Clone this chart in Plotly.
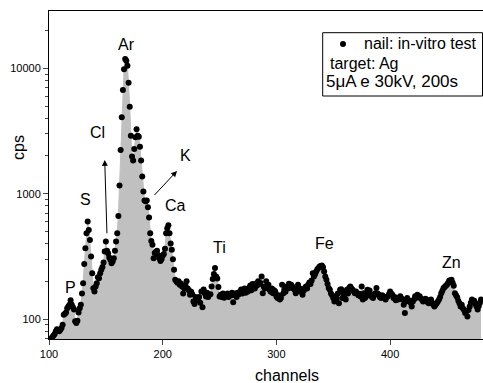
import numpy as np
import plotly.graph_objects as go

# channels 102..480, counts per second
channels = list(range(102, 481))
cps = [
    70, 72, 74, 76, 80, 83, 81, 80, 82, 85, 90, 108, 110, 113, 122, 126, 130, 141, 130, 124,  # 102-121
    119, 96, 93, 97, 113, 122, 130, 160, 193, 275, 367, 484, 600, 514, 428, 315, 232, 176, 166, 182,  # 122-141
    193, 216, 212, 232, 247, 260, 283, 346, 415, 350, 335, 310, 297, 279, 288, 306, 350, 415, 484, 665,  # 142-161
    1160, 2234, 4070, 6710, 9810, 11860, 11500, 10500, 7670, 4940, 2900, 1977, 1836, 2276, 2820, 3265, 2900, 2850, 2370, 1836,  # 162-181
    1368, 1040, 881, 870, 881, 780, 646, 484, 420, 391, 306, 336, 345, 350, 325, 306, 290, 300, 320, 330,  # 182-201
    363, 484, 531, 560, 484, 400, 357, 300, 247, 206, 200, 195, 200, 188, 192, 182, 160, 175, 185, 200,  # 202-221
    175, 170, 156, 165, 158, 138, 132, 150, 143, 142, 150, 135, 166, 124, 172, 160, 151, 162, 150, 156,  # 222-241
    158, 182, 209, 229, 255, 219, 211, 180, 151, 156, 150, 160, 148, 155, 152, 160, 150, 158, 155, 162,  # 242-261
    136, 155, 160, 150, 162, 158, 165, 172, 160, 168, 175, 162, 170, 166, 178, 185, 170, 190, 180, 175,  # 262-281
    192, 185, 200, 190, 194, 219, 161, 180, 175, 200, 185, 188, 171, 165, 175, 161, 170, 166, 151, 147,  # 282-301
    155, 143, 147, 188, 160, 171, 165, 182, 175, 191, 178, 188, 182, 175, 171, 161, 170, 188, 177, 166,  # 302-321
    172, 156, 168, 177, 182, 175, 188, 196, 190, 203, 232, 219, 228, 240, 250, 255, 263, 265, 267, 259,  # 322-341
    240, 219, 206, 190, 177, 171, 160, 155, 147, 138, 150, 145, 160, 134, 171, 173, 147, 161, 156, 143,  # 342-361
    171, 160, 177, 182, 175, 171, 166, 161, 166, 161, 155, 159, 151, 182, 143, 161, 147, 152, 171, 156,  # 362-381
    169, 156, 150, 147, 155, 161, 177, 160, 156, 150, 147, 155, 152, 148, 143, 150, 152, 158, 166, 160,  # 382-401
    156, 147, 150, 141, 146, 143, 148, 152, 145, 143, 130, 112, 138, 147, 142, 140, 135, 126, 138, 143,  # 402-421
    152, 148, 156, 150, 152, 146, 143, 138, 140, 145, 143, 136, 134, 140, 143, 135, 130, 126, 130, 134,  # 422-441
    138, 143, 150, 161, 168, 177, 180, 184, 188, 194, 203, 198, 206, 195, 184, 161, 155, 149, 140, 134,  # 442-461
    126, 130, 122, 118, 112, 115, 105, 118, 126, 135, 143, 138, 140, 132, 126, 119, 127, 135, 143,  # 462-480
]

x_ticks = [100, 200, 300, 400]
y_ticks = [100, 1000, 10000]
y_tick_text = ["100", "1000", "10000"]
y_minor = [70, 80, 90, 200, 300, 400, 500, 600, 700, 800, 900,
           2000, 3000, 4000, 5000, 6000, 7000, 8000, 9000, 20000]

# element labels (channel, cps)
labels = ["P", "S", "Cl", "Ar", "K", "Ca", "Ti", "Fe", "Zn"]
label_ch = [118.8, 132.3, 142.9, 168.3, 220.4, 211.5, 250.1, 342.5, 454.2]
label_cps = [180, 893, 3100, 15600, 2000, 811, 370, 404, 281]

# arrows: (head channel, head cps, tail channel, tail cps)
arrow_head_ch = [149.0, 212.6]
arrow_head_cps = [1858, 1520]
arrow_tail_ch = [151.0, 191.5]
arrow_tail_cps = [470, 948]

legend_lines = ["nail: in-vitro test", "target: Ag", "5μA e 30kV, 200s"]

FONT = "Liberation Sans, Arial, sans-serif"

# plot area in pixels
L, R, T, B = 49, 0, 11, 44
W, H = 483, 383
PW, PH = W - L - R, H - T - B

def px_x(p):
    return (p - L) / PW

def px_y(p):
    return (H - B - p) / PH

fig = go.Figure()
fig.add_trace(go.Scatter(x=channels, y=[10] * len(channels), mode="lines",
                         line=dict(width=0, color="rgba(0,0,0,0)"),
                         showlegend=False, hoverinfo="skip"))
fig.add_trace(go.Scatter(x=channels, y=cps, mode="lines", fill="tonexty",
                         fillcolor="#c0c0c0", line=dict(width=1, color="#c0c0c0"),
                         showlegend=False, hoverinfo="skip"))
fig.add_trace(go.Scatter(x=channels, y=cps, mode="markers",
                         marker=dict(size=6, color="black"),
                         name="nail: in-vitro test", showlegend=False))

for t, cx, cy in zip(labels, label_ch, label_cps):
    fig.add_annotation(x=cx, y=np.log10(cy), text=t, showarrow=False,
                       font=dict(family=FONT, size=16, color="black"))

for hx, hy, tx, ty in zip(arrow_head_ch, arrow_head_cps, arrow_tail_ch, arrow_tail_cps):
    fig.add_annotation(x=hx, y=np.log10(hy), ax=tx, ay=np.log10(ty),
                       xref="x", yref="y", axref="x", ayref="y",
                       text="", showarrow=True, arrowhead=2, arrowsize=1.2,
                       arrowwidth=1, arrowcolor="black")

# legend box
fig.add_shape(type="rect", xref="paper", yref="paper", layer="below",
              x0=px_x(322.7), x1=px_x(482.5), y0=px_y(96), y1=px_y(32.7),
              line=dict(color="black", width=1), fillcolor="white")
# legend symbol (same marker as the data)
fig.add_trace(go.Scatter(x=[px_x(343)], y=[px_y(44)], xaxis="x2", yaxis="y2",
                         mode="markers", marker=dict(size=6, color="black"),
                         showlegend=False, hoverinfo="skip"))
legend_x = [px_x(362), px_x(328), px_x(324)]
legend_y = [px_y(44), px_y(63), px_y(82)]
legend_size = [16, 16, 17]
for t, lx, ly, fs in zip(legend_lines, legend_x, legend_y, legend_size):
    fig.add_annotation(x=lx, y=ly, xref="paper", yref="paper", text=t,
                       showarrow=False, xanchor="left", yanchor="middle",
                       font=dict(family=FONT, size=fs, color="black"))

# axis titles
fig.add_annotation(x=px_x(287), y=px_y(375), xref="paper", yref="paper", text="channels",
                   showarrow=False, xanchor="center", yanchor="middle",
                   font=dict(family=FONT, size=16, color="black"))
fig.add_annotation(x=px_x(18), y=px_y(148), xref="paper", yref="paper", text="cps",
                   showarrow=False, textangle=-90, xanchor="center", yanchor="middle",
                   font=dict(family=FONT, size=16, color="black"))

fig.update_layout(
    width=W, height=H,
    margin=dict(l=L, r=R, t=T, b=B, autoexpand=False),
    paper_bgcolor="white", plot_bgcolor="white",
    font=dict(family=FONT, size=11, color="black"),
    xaxis=dict(range=[100, 100 + PW / 1.137], tickvals=x_ticks, ticks="outside", ticklen=5,
               showgrid=False, zeroline=False, showline=True, linecolor="black",
               linewidth=1, mirror=True, automargin=False,
               tickfont=dict(family=FONT, size=11)),
    yaxis=dict(type="log", range=[1.841, 4.457], tickvals=y_ticks, ticktext=y_tick_text,
               ticks="outside", ticklen=5, showgrid=False, zeroline=False,
               showline=True, linecolor="black", linewidth=1, mirror=True, automargin=False,
               minor=dict(ticks="outside", ticklen=3, tickvals=y_minor, showgrid=False),
               tickfont=dict(family=FONT, size=11)),
    xaxis2=dict(range=[0, 1], domain=[0, 1], overlaying="x", visible=False, fixedrange=True),
    yaxis2=dict(range=[0, 1], domain=[0, 1], overlaying="y", visible=False, fixedrange=True),
)

fig.write_html("out.html", config={"displayModeBar": False},
               post_script="document.body.style.margin='0px';document.body.style.padding='0px';")
